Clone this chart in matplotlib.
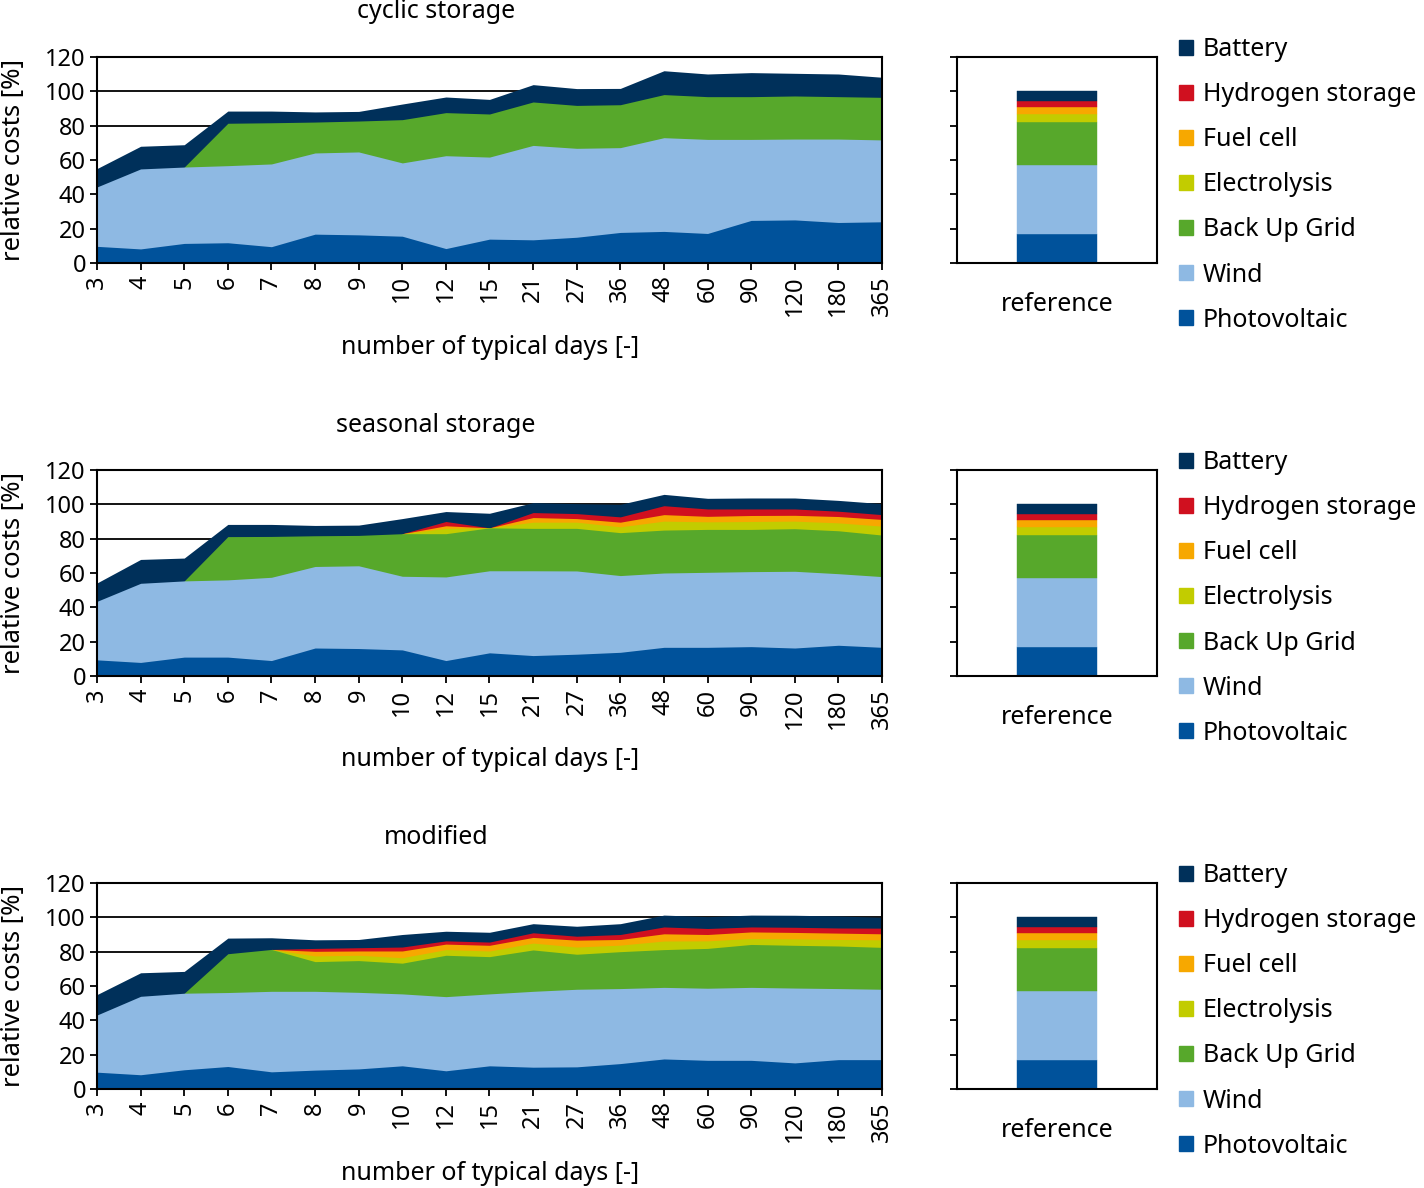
import numpy as np
import matplotlib
matplotlib.use("Agg")
import matplotlib.pyplot as plt
from matplotlib.patches import Patch

plt.rcParams['font.family'] = ['Noto Sans', 'DejaVu Sans']

days = ["3", "4", "5", "6", "7", "8", "9", "10", "12", "15", "21", "27", "36",
        "48", "60", "90", "120", "180", "365"]

series_names = ["Photovoltaic", "Wind", "Back Up Grid", "Electrolysis",
                "Fuel cell", "Hydrogen storage", "Battery"]
series_colors = ["#00529B", "#8EB9E3", "#57A82B", "#C2CC00",
                 "#F7A800", "#D0101F", "#00305A"]

# ---- cyclic storage ----
cyc_pv = [9.7, 8.2, 11.4, 11.8, 9.5, 16.8, 16.4, 15.6, 8.4, 13.9, 13.5, 15.0, 17.8, 18.4, 17.2, 24.8, 25.1, 23.6, 24.0]
cyc_wind = [34.6, 46.6, 44.5, 44.9, 48.2, 47.3, 48.3, 42.7, 54.1, 47.8, 55.0, 51.8, 49.4, 54.6, 54.8, 47.2, 47.1, 48.6, 47.7]
cyc_grid = [0, 0, 0, 24.7, 24.0, 18.0, 18.0, 25.2, 25.1, 25.1, 25.3, 25.0, 25.0, 25.1, 24.9, 24.9, 25.1, 24.7, 24.8]
cyc_elec = [0] * 19
cyc_fuel = [0] * 19
cyc_h2 = [0] * 19
cyc_batt = [10.7, 13.2, 13.0, 7.1, 6.8, 5.9, 5.6, 9.1, 9.1, 8.5, 10.1, 9.8, 9.5, 13.9, 13.2, 14.0, 13.2, 13.2, 11.7]

# ---- seasonal storage ----
sea_pv = [9.4, 7.9, 11.0, 11.0, 9.0, 16.3, 16.0, 15.2, 9.0, 13.5, 11.9, 12.7, 13.8, 16.7, 16.7, 17.1, 16.3, 17.9, 16.7]
sea_wind = [34.1, 46.1, 44.4, 45.0, 48.5, 47.5, 48.2, 42.9, 48.7, 47.8, 49.4, 48.5, 44.7, 43.3, 43.7, 43.7, 44.7, 41.7, 41.2]
sea_grid = [0, 0, 0, 25.2, 23.8, 17.9, 17.7, 24.8, 25.2, 25.0, 24.7, 24.8, 25.0, 25.0, 25.0, 24.6, 24.8, 25.0, 24.2]
sea_elec = [0, 0, 0, 0, 0, 0, 0, 0, 3.1, 0, 3.6, 3.6, 3.4, 5.2, 4.4, 4.6, 4.4, 4.6, 5.2]
sea_fuel = [0, 0, 0, 0, 0, 0, 0, 0, 1.5, 0, 2.7, 2.1, 2.7, 3.8, 3.2, 3.5, 3.4, 3.7, 3.9]
sea_h2 = [0, 0, 0, 0, 0, 0, 0, 0, 2.5, 0, 2.9, 2.9, 3.1, 5.2, 4.3, 3.8, 3.7, 3.1, 2.8]
sea_batt = [10.7, 13.9, 13.3, 7.1, 7.0, 6.0, 6.0, 8.8, 5.8, 8.5, 5.8, 5.8, 7.3, 6.6, 6.2, 6.4, 6.4, 6.3, 6.4]

# ---- modified ----
mod_pv = [9.8, 8.3, 11.2, 13.1, 10.0, 11.0, 11.7, 13.5, 10.6, 13.5, 12.7, 12.9, 14.8, 17.5, 16.7, 16.7, 15.2, 17.1, 17.1]
mod_wind = [33.3, 45.7, 44.6, 43.1, 46.9, 45.9, 44.6, 41.9, 43.2, 41.9, 44.2, 45.2, 43.7, 41.7, 42.0, 42.5, 43.6, 41.4, 41.0]
mod_grid = [0, 0, 0, 22.6, 24.4, 17.3, 18.5, 17.9, 24.1, 21.7, 24.1, 20.4, 21.5, 22.0, 23.2, 25.0, 24.9, 24.8, 24.4]
mod_elec = [0, 0, 0, 0, 0, 3.3, 3.1, 3.2, 3.3, 3.3, 4.0, 4.2, 3.8, 5.0, 4.4, 3.5, 3.8, 3.8, 4.4]
mod_fuel = [0, 0, 0, 0, 0, 2.7, 2.5, 3.9, 3.2, 3.3, 3.3, 4.0, 3.3, 4.2, 3.7, 3.8, 3.7, 3.7, 3.5]
mod_h2 = [0, 0, 0, 0, 0, 1.7, 1.9, 2.3, 1.9, 1.9, 2.7, 2.3, 2.9, 4.0, 3.5, 2.9, 3.0, 3.0, 3.3]
mod_batt = [11.9, 13.7, 12.7, 9.1, 6.8, 5.0, 4.8, 7.3, 5.6, 5.7, 5.3, 5.8, 6.3, 6.9, 6.9, 6.9, 7.0, 7.0, 6.3]

# ---- reference bar ----
ref_values = [17.0, 39.9, 25.2, 4.7, 3.8, 3.6, 5.8]

panels = [
    ("cyclic storage", [cyc_pv, cyc_wind, cyc_grid, cyc_elec, cyc_fuel, cyc_h2, cyc_batt]),
    ("seasonal storage", [sea_pv, sea_wind, sea_grid, sea_elec, sea_fuel, sea_h2, sea_batt]),
    ("modified", [mod_pv, mod_wind, mod_grid, mod_elec, mod_fuel, mod_h2, mod_batt]),
]

W, H = 1424, 1188
fig = plt.figure(figsize=(W / 100, H / 100), dpi=100)

FS = 18      # labels, titles, legend
TFS = 17     # tick labels
ax_tops = [57, 470, 883]
ax_h = 206

def fx(px):
    return px / W

def fy(px):
    return 1 - px / H

for k, (title, data) in enumerate(panels):
    top = ax_tops[k]
    bottom = top + ax_h
    ax = fig.add_axes([fx(97), fy(bottom), fx(785), ax_h / H])
    x = np.arange(len(days))
    for yv in (80, 100):
        ax.axhline(yv, color="black", lw=1.3, zorder=0)
    arr = np.array(data, dtype=float)
    cum = np.cumsum(arr, axis=0)
    # paint from the top layer down so that lower layers cover the upper fills
    for j in reversed(range(len(series_names))):
        nz = arr[j] > 0
        mask = nz | np.r_[nz[1:], False] | np.r_[False, nz[:-1]]
        if not mask.any():
            continue
        ax.fill_between(x, 0, cum[j], where=mask, color=series_colors[j],
                        lw=0, zorder=1)
    ax.set_xlim(0, len(days) - 1)
    ax.set_ylim(0, 120)
    ax.set_yticks(np.arange(0, 121, 20))
    ax.set_xticks(x)
    ax.set_xticklabels(days, rotation=90, fontsize=TFS)
    ax.tick_params(axis="y", labelsize=TFS, length=5, width=1.3, direction="out", pad=3)
    ax.tick_params(axis="x", length=5, width=1.3, direction="out", pad=4)
    for s in ax.spines.values():
        s.set_linewidth(1.5)
        s.set_color("black")
        s.set_zorder(3)
    ax.set_ylabel("relative costs [%]", fontsize=FS + 0.5)
    ax.yaxis.set_label_coords(-0.091, 0.5)
    fig.text(fx(436), fy(top - 45), title, fontsize=FS, ha="center", va="center")
    fig.text(fx(490), fy(bottom + 84), "number of typical days [-]", fontsize=FS,
             ha="center", va="center")

    # reference bar
    rax = fig.add_axes([fx(957), fy(bottom), fx(200), ax_h / H])
    base = 0.0
    for v, c in zip(ref_values, series_colors):
        rax.bar([0], [v], bottom=base, width=0.8, color=c, edgecolor=c, lw=0.3)
        base += v
    rax.set_xlim(-1, 1)
    rax.set_ylim(0, 120)
    rax.set_yticks(np.arange(0, 121, 20))
    rax.set_yticklabels([])
    rax.set_xticks([0])
    rax.set_xticklabels(["reference"], fontsize=FS)
    rax.tick_params(axis="x", length=0, pad=21)
    rax.tick_params(axis="y", length=5, width=1.3, direction="out")
    for s in rax.spines.values():
        s.set_linewidth(1.5)
        s.set_color("black")

    handles = [Patch(facecolor=c, edgecolor=c) for c in series_colors][::-1]
    labels = series_names[::-1]
    fig.legend(handles, labels, loc="upper left",
               bbox_to_anchor=(fx(1179), fy(top - 20)), frameon=False,
               fontsize=FS, handlelength=0.55, handleheight=0.55,
               handletextpad=0.4, labelspacing=0.805, borderpad=0,
               borderaxespad=0)

fig.savefig("out.png", dpi=100)
